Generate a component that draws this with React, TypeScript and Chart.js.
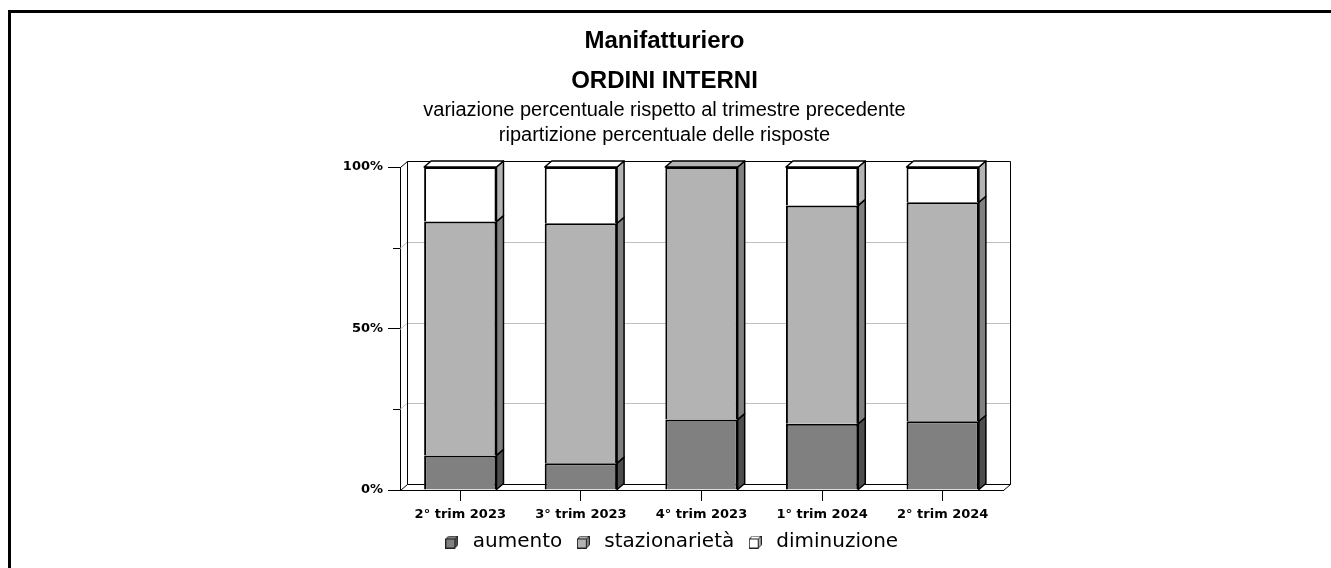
import React, { useEffect, useRef } from 'react';
import { Chart, registerables } from 'chart.js';

Chart.register(...registerables);

const categories = ['2° trim 2023', '3° trim 2023', '4° trim 2023', '1° trim 2024', '2° trim 2024'];
const aumento = [10.7, 8.3, 21.8, 20.5, 21.3];
const stazionarieta = [72.4, 74.3, 78.2, 67.6, 67.8];
const diminuzione = [16.9, 17.4, 0, 11.9, 10.9];
const seriesNames = ['aumento', 'stazionarietà', 'diminuzione'];
const yLabelValues = [0, 50, 100];
const yMinorValues = [25, 75];
const titleLines = ['Manifatturiero', 'ORDINI INTERNI'];
const subtitleLines = [
  'variazione percentuale rispetto al trimestre precedente',
  'ripartizione percentuale delle risposte',
];

const FRONT = ['#808080', '#b3b3b3', '#ffffff'];
const SIDE = ['#4d4d4d', '#808080', '#b3b3b3'];
const DX = 7;
const DY = 6;

function makeIcon(front: string, side: string): HTMLCanvasElement {
  const c = document.createElement('canvas');
  c.width = 13;
  c.height = 13;
  const g = c.getContext('2d')!;
  g.lineWidth = 1;
  g.strokeStyle = '#222';
  g.fillStyle = front;
  g.beginPath();
  g.moveTo(0.5, 3.5); g.lineTo(3.5, 0.5); g.lineTo(12.5, 0.5); g.lineTo(9.5, 3.5); g.closePath();
  g.fill(); g.stroke();
  g.fillStyle = side;
  g.beginPath();
  g.moveTo(9.5, 3.5); g.lineTo(12.5, 0.5); g.lineTo(12.5, 9.5); g.lineTo(9.5, 12.5); g.closePath();
  g.fill(); g.stroke();
  g.fillStyle = front;
  g.fillRect(0.5, 3.5, 9, 9);
  g.strokeRect(0.5, 3.5, 9, 9);
  return c;
}

const threeD = {
  id: 'threeD',
  beforeDatasetsDraw(chart: any) {
    const { ctx, chartArea } = chart;
    const L = chartArea.left;
    const R = chartArea.right;
    const T = chartArea.top;
    const B = chartArea.bottom;
    const ys = chart.scales.y;
    ctx.save();
    ctx.lineWidth = 1;
    ctx.strokeStyle = '#c0c0c0';
    yMinorValues.concat([50]).forEach((v) => {
      const py = Math.round(ys.getPixelForValue(v)) + 0.5;
      ctx.beginPath();
      ctx.moveTo(L, py);
      ctx.lineTo(L + DX, py - DY);
      ctx.lineTo(R + DX, py - DY);
      ctx.stroke();
    });
    ctx.strokeStyle = '#000';
    yMinorValues.forEach((v) => {
      const py = Math.round(ys.getPixelForValue(v)) + 0.5;
      ctx.beginPath();
      ctx.moveTo(L - 7, py);
      ctx.lineTo(L, py);
      ctx.stroke();
    });
    const l = Math.round(L) + 0.5;
    const r = Math.round(R) + 0.5;
    const t = Math.round(T) + 0.5;
    const b = Math.round(B) + 0.5;
    ctx.beginPath();
    ctx.moveTo(l, t); ctx.lineTo(l + DX, t - DY); ctx.lineTo(r + DX, t - DY);
    ctx.lineTo(r + DX, b - DY); ctx.lineTo(r, b);
    ctx.moveTo(l + DX, t - DY); ctx.lineTo(l + DX, b - DY); ctx.lineTo(r + DX, b - DY);
    ctx.moveTo(l, b); ctx.lineTo(l + DX, b - DY);
    ctx.stroke();
    ctx.restore();
  },
  afterDatasetsDraw(chart: any) {
    const { ctx } = chart;
    const n = chart.data.labels.length;
    const ds = chart.data.datasets;
    ctx.save();
    ctx.lineWidth = 1.5;
    ctx.strokeStyle = '#000';
    ctx.lineJoin = 'round';
    for (let j = 0; j < n; j++) {
      let topIdx = -1;
      ds.forEach((d: any, i: number) => { if (d.data[j] > 0) topIdx = i; });
      ds.forEach((d: any, i: number) => {
        if (!(d.data[j] > 0)) return;
        const el = chart.getDatasetMeta(i).data[j];
        const { x, y, base, width } = el.getProps(['x', 'y', 'base', 'width'], true);
        const xl = x - width / 2;
        const xr = x + width / 2;
        ctx.fillStyle = SIDE[i];
        ctx.beginPath();
        ctx.moveTo(xr, y); ctx.lineTo(xr + DX, y - DY); ctx.lineTo(xr + DX, base - DY); ctx.lineTo(xr, base);
        ctx.closePath();
        ctx.fill(); ctx.stroke();
        if (i === topIdx) {
          ctx.fillStyle = FRONT[i];
          ctx.beginPath();
          ctx.moveTo(xl, y); ctx.lineTo(xl + DX, y - DY); ctx.lineTo(xr + DX, y - DY); ctx.lineTo(xr, y);
          ctx.closePath();
          ctx.fill(); ctx.stroke();
        }
      });
    }
    ctx.restore();
  },
};

const legendShift = {
  id: 'legendShift',
  afterLayout(chart: any) {
    const lg = chart.legend;
    if (lg) { lg.left += 5; lg.right += 5; }
  },
};

export default function App() {
  const ref = useRef<HTMLCanvasElement>(null);
  useEffect(() => {
    if (!ref.current) return;
    const icons = [0, 1, 2].map((i) => makeIcon(FRONT[i], SIDE[i]));
    const series = [aumento, stazionarieta, diminuzione];
    const chart = new Chart(ref.current, {
      type: 'bar',
      data: {
        labels: categories,
        datasets: series.map((data, i) => ({
          label: seriesNames[i],
          data,
          backgroundColor: FRONT[i],
          borderColor: '#000',
          borderWidth: 2,
          borderSkipped: 'start',
          barPercentage: 0.6,
          categoryPercentage: 1,
        })),
      },
      options: {
        responsive: false,
        animation: false,
        events: [],
        layout: { padding: { left: 326, right: 328, top: 0, bottom: 6 } },
        scales: {
          x: {
            stacked: true,
            grid: { drawOnChartArea: false, offset: false, tickLength: 11, tickColor: '#000' },
            border: { display: true, color: '#000', width: 1 },
            ticks: {
              color: '#000',
              padding: 6,
              maxRotation: 0,
              autoSkip: false,
              font: { family: 'DejaVu Sans', size: 13, weight: 'bold' },
            },
            afterFit: (s: any) => { s.height = 32; },
          },
          y: {
            stacked: true,
            min: 0,
            max: 100,
            ticks: {
              stepSize: 25,
              color: '#000',
              padding: 5,
              font: { family: 'DejaVu Sans', size: 13, weight: 'bold' },
              callback: (v: any) => (yLabelValues.includes(Number(v)) ? v + '%' : ''),
            },
            grid: {
              drawOnChartArea: false,
              tickLength: 12,
              tickColor: (c: any) => (c.tick && yLabelValues.includes(c.tick.value) ? '#000' : 'rgba(0,0,0,0)'),
            },
            border: { display: true, color: '#000', width: 1 },
            afterFit: (s: any) => { s.width = 74; },
          },
        },
        plugins: {
          tooltip: { enabled: false },
          title: {
            display: true,
            text: titleLines,
            color: '#000',
            font: { family: 'Liberation Sans', size: 24, weight: 'bold', lineHeight: 40 / 24 },
            padding: { top: 21, bottom: -3 },
          },
          subtitle: {
            display: true,
            text: subtitleLines,
            color: '#000',
            font: { family: 'Liberation Sans', size: 20, weight: 'normal', lineHeight: 1.25 },
            padding: { top: 0, bottom: 19 },
          },
          legend: {
            position: 'bottom',
            labels: {
              usePointStyle: true,
              pointStyleWidth: 22,
              color: '#000',
              padding: 10,
              font: { family: 'DejaVu Sans', size: 20 },
              generateLabels: (ch: any) => {
                const items = Chart.defaults.plugins.legend.labels.generateLabels(ch);
                return items.map((it: any, i: number) => ({ ...it, pointStyle: icons[i] }));
              },
            },
          },
        },
      },
      plugins: [threeD, legendShift],
    } as any);
    return () => chart.destroy();
  }, []);

  return (
    <div>
      <div
        style={{
          position: 'fixed',
          left: 8,
          top: 10,
          right: -20,
          bottom: -20,
          borderLeft: '3px solid #000',
          borderTop: '3px solid #000',
        }}
      />
      <canvas
        ref={ref}
        width={1331}
        height={568}
        style={{ position: 'fixed', left: 0, top: 0, width: 1331, height: 568, display: 'block' }}
      />
    </div>
  );
}
